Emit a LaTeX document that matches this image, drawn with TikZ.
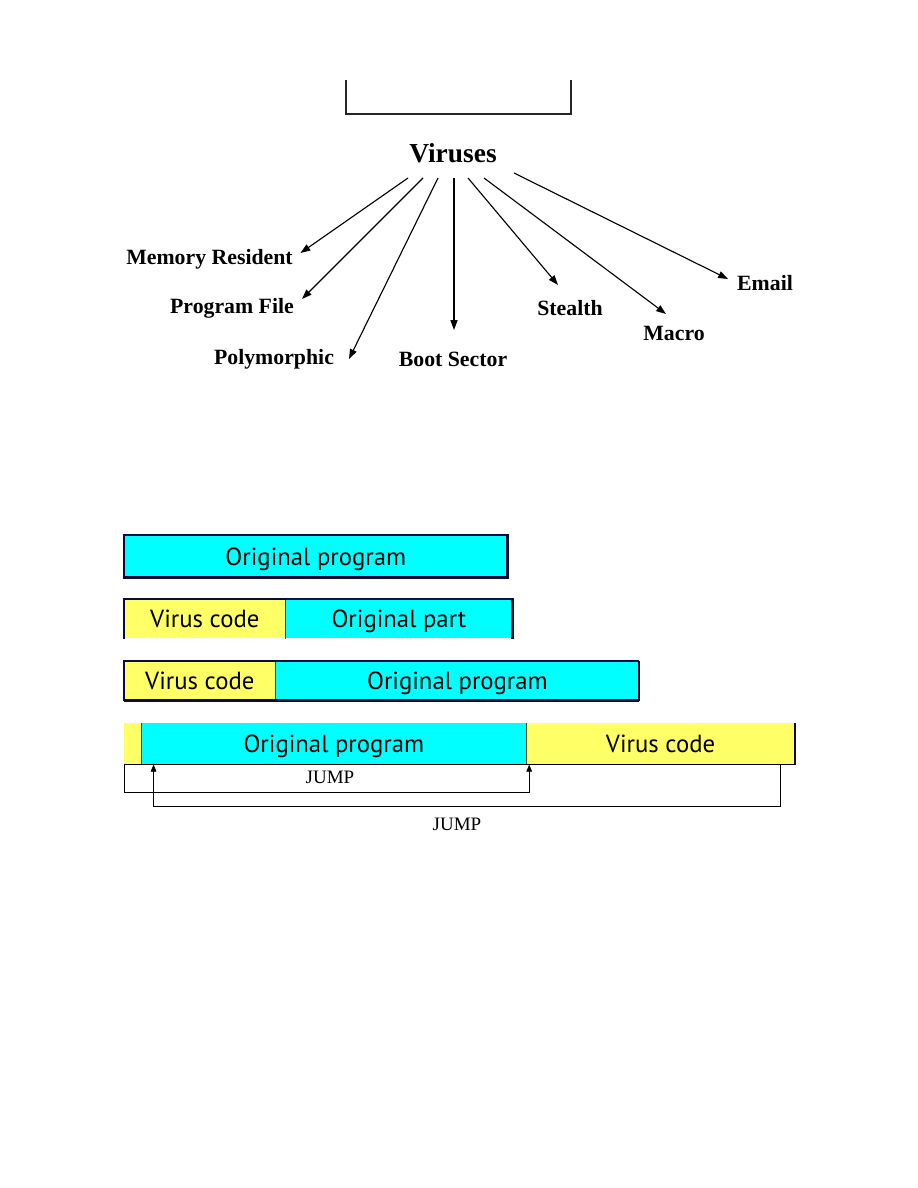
\documentclass[tikz,border=0pt]{standalone}
\usepackage{fontspec}
\setmainfont{Liberation Serif}
\newfontfamily\boxfont{PT Sans}
\usepackage{xcolor}
\usepackage{tikz}
\usetikzlibrary{arrows.meta,positioning,calc}

\definecolor{cyanfill}{HTML}{00FFFF}
\definecolor{yellowfill}{HTML}{FFFF66}
\definecolor{boxline}{HTML}{0A0A3C}
\definecolor{divline}{HTML}{4A4A20}

\begin{document}
\begin{tikzpicture}[x=0.025cm, y=-0.025cm,
  kind/.style={font=\fontsize{15.5}{17}\selectfont\bfseries, inner sep=1pt},
  arr/.style={-{Triangle[length=7pt,width=5pt]}, line width=0.8pt},
  seg/.style={inner sep=0pt, text height=13pt, text depth=0pt, font=\boxfont\fontsize{17.6}{20}\selectfont},
  cyanseg/.style={seg, fill=cyanfill},
  yellowseg/.style={seg, fill=yellowfill},
  jump/.style={-{Triangle[length=5pt,width=4pt]}, line width=0.5pt}]
  \useasboundingbox (0,0) rectangle (918,1188);

  \draw[line width=1.8pt, black!85] (346,80) -- (346,114) -- (571,114) -- (571,80);
  \node[font=\fontsize{19.5}{21}\selectfont\bfseries] (vir) at (453,153) {Viruses};

  \node[kind] (memres) at (209.5,259) {Memory Resident};
  \node[kind] (progfile) at (232,308) {Program File};
  \node[kind] (poly) at (274,359) {Polymorphic};
  \node[kind] (boot) at (453,359) {Boot Sector};
  \node[kind] (stealth) at (570,308) {Stealth};
  \node[kind] (macro) at (674,333) {Macro};
  \node[kind] (email) at (765,283) {Email};

  \draw[arr] ($(vir)+(-45,25)$) -- ($(memres)+(91,-6)$);
  \draw[arr] ($(vir)+(-30,25)$) -- ($(progfile)+(70,-9)$);
  \draw[arr] ($(vir)+(-15,25)$) -- ($(poly)+(75,0)$);
  \draw[arr] ($(vir)+(1,25)$) -- ($(boot)+(1,-29)$);
  \draw[arr] ($(vir)+(15,25)$) -- ($(stealth)+(-12,-23)$);
  \draw[arr] ($(vir)+(31,25)$) -- ($(macro)+(-8,-19)$);
  \draw[arr] ($(vir)+(61,20)$) -- ($(email)+(-37,-4)$);

  \node[cyanseg, anchor=north west, minimum width=9.575cm, minimum height=1.05cm] (orig) at (124,535) {Original program};
  \draw[boxline, line width=2pt] (orig.north west) rectangle (orig.south east);

  \node[yellowseg, anchor=north west, minimum width=4.025cm, minimum height=0.975cm] (pvir) at (124,599) {Virus code};
  \node[cyanseg, right=0pt of pvir, minimum width=5.65cm, minimum height=0.975cm] (ppart) {Original part};
  \draw[divline, line width=0.6pt] (pvir.north east) -- (pvir.south east);
  \draw[boxline, line width=2pt] (pvir.south west) -- (pvir.north west) -- (ppart.north east) -- (ppart.south east);

  \node[yellowseg, anchor=north west, minimum width=3.775cm, minimum height=0.975cm] (fvir) at (124,661) {Virus code};
  \node[cyanseg, right=0pt of fvir, minimum width=9.075cm, minimum height=0.975cm] (forig) {Original program};
  \draw[divline, line width=0.6pt] (fvir.north east) -- (fvir.south east);
  \draw[boxline, line width=0.8pt] (forig.north east) -- (fvir.north west) -- (fvir.south west);
  \draw[boxline, line width=1.6pt] (forig.north east) -- (forig.south east);
  \draw[boxline, line width=2.4pt] (fvir.south west) -- (forig.south east);

  \node[yellowseg, anchor=north west, minimum width=0.425cm, minimum height=1.025cm] (ahead) at (124,723) {};
  \node[cyanseg, right=0pt of ahead, minimum width=9.6cm, minimum height=1.025cm] (aorig) {Original program};
  \node[yellowseg, right=0pt of aorig, minimum width=6.7cm, minimum height=1.025cm] (avir) {Virus code};
  \draw[divline, line width=0.6pt] (ahead.north east) -- (ahead.south east);
  \draw[divline, line width=0.6pt] (aorig.north east) -- (aorig.south east);
  \draw[black, line width=0.5pt] (ahead.south west) -- (avir.south east);
  \draw[boxline, line width=1.6pt] (avir.north east) -- (avir.south east);

  \draw[jump] (ahead.south west) -- ++(0,28) -| ($(aorig.south east)+(3,0)$);
  \draw[jump] ($(avir.south east)+(-15,0)$) -- ++(0,42) -| ($(aorig.south west)+(12,0)$);
  \node[font=\fontsize{13.5}{15}\selectfont] (jmpa) at (330,777) {JUMP};
  \node[font=\fontsize{13.5}{15}\selectfont] (jmpb) at (457,824) {JUMP};
\end{tikzpicture}
\end{document}
